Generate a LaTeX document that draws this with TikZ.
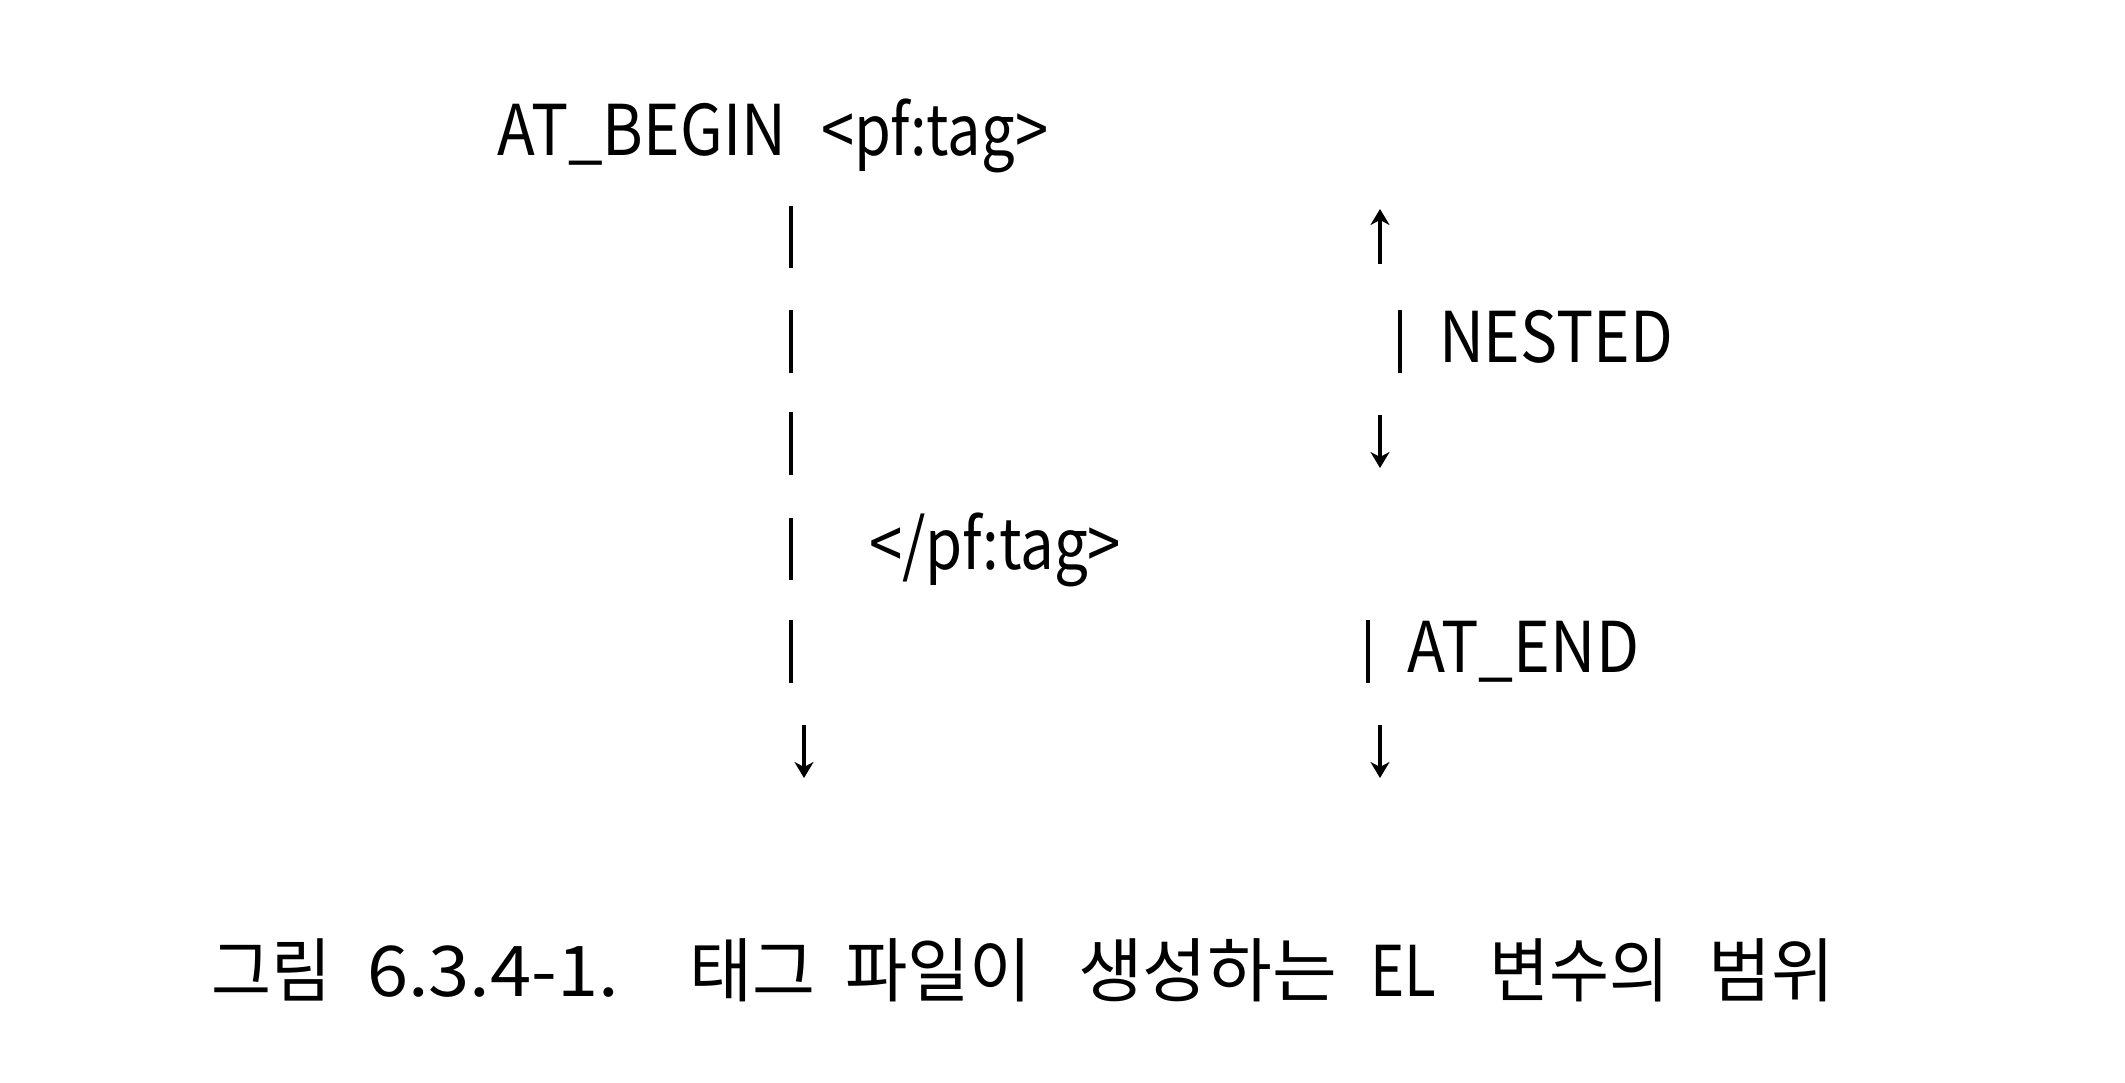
\documentclass[tikz,border=0pt]{standalone}
\usepackage{fontspec}
\usepackage{graphicx}
\setmainfont{Noto Sans CJK KR}
\usetikzlibrary{arrows.meta}
\newcommand{\fitw}[2]{\resizebox{#1pt}{\height}{#2}}
\tikzset{
  txt/.style={anchor=base west, inner sep=0pt, outer sep=0pt, font=\fontsize{70}{80}\selectfont},
  bar/.style={line width=3.5pt, line cap=butt},
  arr/.style={line width=3.2pt, -{Stealth[length=16pt, width=19pt, inset=5pt]}}
}
\begin{document}
\begin{tikzpicture}[x=1pt, y=-1pt]
\useasboundingbox[fill=white] (0,0) rectangle (2125,1083);
% texts
\node[txt] (atbegin) at (497,156) {\fitw{289}{AT\_BEGIN}};
\node[txt] (opentag) at (821,156) {\fitw{227}{<pf:tag>}};
\node[txt] (nested) at (1439,362) {\fitw{234}{NESTED}};
\node[txt] (closetag) at (869,569) {\fitw{252}{</pf:tag>}};
\node[txt] (atend) at (1407,672) {\fitw{232}{AT\_END}};
% caption
\node[txt] (c1) at (211,996) {\fitw{120}{그림}};
\node[txt] (c2) at (367,996) {\fitw{252}{6.3.4-1.}};
\node[txt] (c3) at (689,996) {\fitw{126}{태그}};
\node[txt] (c4) at (845,996) {\fitw{187}{파일이}};
\node[txt] (c5) at (1078,996) {\fitw{259}{생성하는}};
\node[txt] (c6) at (1370,996) {\fitw{66}{EL}};
\node[txt] (c7) at (1489,996) {\fitw{180}{변수의}};
\node[txt] (c8) at (1708,996) {\fitw{126}{범위}};
% left column
\coordinate (l1a) at (791,206); \coordinate (l1b) at (791,268);
\coordinate (l2a) at (791,310); \coordinate (l2b) at (791,373);
\coordinate (l3a) at (791,412); \coordinate (l3b) at (791,475);
\coordinate (l4a) at (791,518); \coordinate (l4b) at (791,580);
\coordinate (l5a) at (791,620); \coordinate (l5b) at (791,683);
\coordinate (l6a) at (804,725); \coordinate (l6b) at (804,778);
\draw[bar] (l1a) -- (l1b);
\draw[bar] (l2a) -- (l2b);
\draw[bar] (l3a) -- (l3b);
\draw[bar] (l4a) -- (l4b);
\draw[bar] (l5a) -- (l5b);
\draw[arr] (l6a) -- (l6b);
% right column
\coordinate (r1a) at (1380,264); \coordinate (r1b) at (1380,209);
\coordinate (r2a) at (1400,310); \coordinate (r2b) at (1400,373);
\coordinate (r3a) at (1380,415); \coordinate (r3b) at (1380,468);
\coordinate (r5a) at (1368,620); \coordinate (r5b) at (1368,683);
\coordinate (r6a) at (1380,725); \coordinate (r6b) at (1380,778);
\draw[arr] (r1a) -- (r1b);
\draw[bar] (r2a) -- (r2b);
\draw[arr] (r3a) -- (r3b);
\draw[bar] (r5a) -- (r5b);
\draw[arr] (r6a) -- (r6b);
\end{tikzpicture}
\end{document}
